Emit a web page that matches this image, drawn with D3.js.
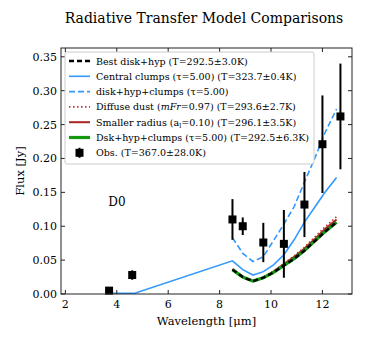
<!DOCTYPE html>
<html>
<head>
<meta charset="utf-8">
<script src="https://cdn.jsdelivr.net/npm/d3@7"></script>
<style>
  body { margin: 0; background: #fff; }
  text { font-family: "DejaVu Serif", serif; fill: #000; }
</style>
</head>
<body>
<div id="chart"></div>
<script>
// observations: wavelength, flux, error
const obsWave = [3.7, 4.6, 8.5, 8.9, 9.7, 10.5, 11.3, 12.0, 12.7]
const obsFlux = [0.005, 0.028, 0.110, 0.100, 0.076, 0.074, 0.132, 0.221, 0.262]
const obsErr = [0.003, 0.007, 0.030, 0.013, 0.029, 0.050, 0.048, 0.072, 0.078]

// central clumps (solid blue)
const centralWave = [3.7, 4.7, 8.5, 8.9, 9.3, 9.7, 10.1, 10.5, 10.9, 11.3, 11.7, 12.1, 12.55]
const centralFlux = [0.001, 0.001, 0.049, 0.036, 0.028, 0.033, 0.043, 0.058, 0.080, 0.106, 0.128, 0.150, 0.172]

// disk+hyp+clumps (dashed blue)
const clumpsWave = [8.5, 8.9, 9.3, 9.7, 10.1, 10.5, 10.9, 11.3, 11.7, 12.1, 12.55]
const clumpsFlux = [0.083, 0.060, 0.048, 0.055, 0.079, 0.103, 0.129, 0.165, 0.200, 0.238, 0.273]

// best disk+hyp, diffuse dust, smaller radius, dsk+hyp+clumps
const modelWave = [8.5, 8.9, 9.3, 9.7, 10.1, 10.5, 10.9, 11.3, 11.7, 12.1, 12.55]
const bestFlux = [0.036, 0.025, 0.019, 0.024, 0.032, 0.042, 0.052, 0.064, 0.078, 0.092, 0.106]
const diffuseFlux = [0.037, 0.026, 0.020, 0.025, 0.034, 0.045, 0.056, 0.069, 0.084, 0.099, 0.114]
const smallFlux = [0.036, 0.025, 0.019, 0.024, 0.033, 0.044, 0.055, 0.067, 0.081, 0.096, 0.110]
const dskFlux = [0.036, 0.025, 0.019, 0.024, 0.032, 0.042, 0.052, 0.064, 0.078, 0.092, 0.106]

const xTicks = [2, 4, 6, 8, 10, 12]
const yTicks = [0, 0.05, 0.10, 0.15, 0.20, 0.25, 0.30, 0.35]

const width = 366
const height = 344
const margin = { left: 61, right: 14, top: 48, bottom: 50 }

const svg = d3.select('#chart').append('svg')
  .attr('width', width)
  .attr('height', height)

const x = d3.scaleLinear().domain([1.83, 13.15]).range([margin.left, width - margin.right])
const y = d3.scaleLinear().domain([0, 0.363]).range([height - margin.bottom, margin.top])

// title
svg.append('text')
  .attr('x', 204).attr('y', 23)
  .attr('text-anchor', 'middle')
  .style('font-size', '14px')
  .text('Radiative Transfer Model Comparisons')

const plot = svg.append('g')

const line = (wave, flux) => d3.line()
  .x((d, i) => x(wave[i]))
  .y(d => y(d))(flux)

// model curves
plot.append('path').attr('d', line(centralWave, centralFlux))
  .attr('fill', 'none').attr('stroke', '#3399ff').attr('stroke-width', 1.6)
plot.append('path').attr('d', line(clumpsWave, clumpsFlux))
  .attr('fill', 'none').attr('stroke', '#3399ff').attr('stroke-width', 1.6)
  .attr('stroke-dasharray', '6,3')
plot.append('path').attr('d', line(modelWave, diffuseFlux))
  .attr('fill', 'none').attr('stroke', '#cc3333').attr('stroke-width', 1.6)
  .attr('stroke-dasharray', '1.5,2.5')
plot.append('path').attr('d', line(modelWave, smallFlux))
  .attr('fill', 'none').attr('stroke', '#aa2222').attr('stroke-width', 2)
plot.append('path').attr('d', line(modelWave, dskFlux))
  .attr('fill', 'none').attr('stroke', '#119911').attr('stroke-width', 3.2)
plot.append('path').attr('d', line(modelWave, bestFlux))
  .attr('fill', 'none').attr('stroke', '#000').attr('stroke-width', 2.4)
  .attr('stroke-dasharray', '5,3')

// observations
const obs = plot.selectAll('.obs').data(obsWave).enter().append('g')
obs.append('line')
  .attr('x1', d => x(d)).attr('x2', d => x(d))
  .attr('y1', (d, i) => y(obsFlux[i] - obsErr[i]))
  .attr('y2', (d, i) => y(obsFlux[i] + obsErr[i]))
  .attr('stroke', '#000').attr('stroke-width', 2)
obs.append('rect')
  .attr('x', d => x(d) - 4).attr('y', (d, i) => y(obsFlux[i]) - 4)
  .attr('width', 8).attr('height', 8)
  .attr('fill', '#000')

// D0 label
svg.append('text')
  .attr('x', 117).attr('y', 206)
  .attr('text-anchor', 'middle')
  .style('font-size', '12px')
  .text('D0')

// axes frame and inward ticks
const x0 = margin.left, x1 = width - margin.right
const y0 = height - margin.bottom, y1 = margin.top
svg.append('rect')
  .attr('x', x0).attr('y', y1).attr('width', x1 - x0).attr('height', y0 - y1)
  .attr('fill', 'none').attr('stroke', '#222').attr('stroke-width', 1)

const tickLen = 4
xTicks.forEach(t => {
  svg.append('line').attr('x1', x(t)).attr('x2', x(t)).attr('y1', y0).attr('y2', y0 - tickLen).attr('stroke', '#222')
  svg.append('line').attr('x1', x(t)).attr('x2', x(t)).attr('y1', y1).attr('y2', y1 + tickLen).attr('stroke', '#222')
  svg.append('text').attr('x', x(t)).attr('y', y0 + 14)
    .attr('text-anchor', 'middle').style('font-size', '11px').text(t)
})
yTicks.forEach(t => {
  svg.append('line').attr('x1', x0).attr('x2', x0 + tickLen).attr('y1', y(t)).attr('y2', y(t)).attr('stroke', '#222')
  svg.append('line').attr('x1', x1).attr('x2', x1 - tickLen).attr('y1', y(t)).attr('y2', y(t)).attr('stroke', '#222')
  svg.append('text').attr('x', x0 - 4).attr('y', y(t) + 4)
    .attr('text-anchor', 'end').style('font-size', '11px').text(d3.format('.2f')(t))
})

svg.append('text')
  .attr('x', (x0 + x1) / 2).attr('y', 325)
  .attr('text-anchor', 'middle').style('font-size', '11.5px')
  .text('Wavelength [μm]')
svg.append('text')
  .attr('transform', `translate(24,${(y0 + y1) / 2}) rotate(-90)`)
  .attr('text-anchor', 'middle').style('font-size', '11.5px')
  .text('Flux [Jy]')

// legend
const legend = svg.append('g')
legend.append('rect')
  .attr('x', 65).attr('y', 52).attr('width', 249).attr('height', 112).attr('rx', 2)
  .attr('fill', 'rgba(255,255,255,0.85)').attr('stroke', '#ccc')

const rowY = i => 61 + i * 15.3
const entries = [
  { stroke: '#000', width: 2.4, dash: '5,3' },
  { stroke: '#3399ff', width: 1.6, dash: null },
  { stroke: '#3399ff', width: 1.6, dash: '6,3' },
  { stroke: '#cc3333', width: 1.6, dash: '1.5,2.5' },
  { stroke: '#aa2222', width: 2, dash: null },
  { stroke: '#119911', width: 3.2, dash: null },
]
entries.forEach((e, i) => {
  legend.append('line')
    .attr('x1', 69).attr('x2', 90).attr('y1', rowY(i)).attr('y2', rowY(i))
    .attr('stroke', e.stroke).attr('stroke-width', e.width)
    .attr('stroke-dasharray', e.dash)
})
legend.append('line').attr('x1', 79.5).attr('x2', 79.5).attr('y1', rowY(6) - 5).attr('y2', rowY(6) + 5)
  .attr('stroke', '#000').attr('stroke-width', 2)
legend.append('rect').attr('x', 75.5).attr('y', rowY(6) - 4).attr('width', 8).attr('height', 8).attr('fill', '#000')

const lt = i => legend.append('text').attr('x', 96).attr('y', rowY(i) + 3.5).style('font-size', '9.5px')
lt(0).text('Best disk+hyp (T=292.5±3.0K)')
lt(1).text('Central clumps (τ=5.00) (T=323.7±0.4K)')
lt(2).text('disk+hyp+clumps (τ=5.00)')
const t3 = lt(3)
t3.append('tspan').text('Diffuse dust (')
t3.append('tspan').style('font-style', 'italic').text('mFr')
t3.append('tspan').text('=0.97) (T=293.6±2.7K)')
const t4 = lt(4)
t4.append('tspan').text('Smaller radius (a')
t4.append('tspan').attr('dy', 2).style('font-size', '6.5px').text('l')
t4.append('tspan').attr('dy', -2).text('=0.10) (T=296.1±3.5K)')
lt(5).text('Dsk+hyp+clumps (τ=5.00) (T=292.5±6.3K)')
lt(6).text('Obs. (T=367.0±28.0K)')
</script>
</body>
</html>
